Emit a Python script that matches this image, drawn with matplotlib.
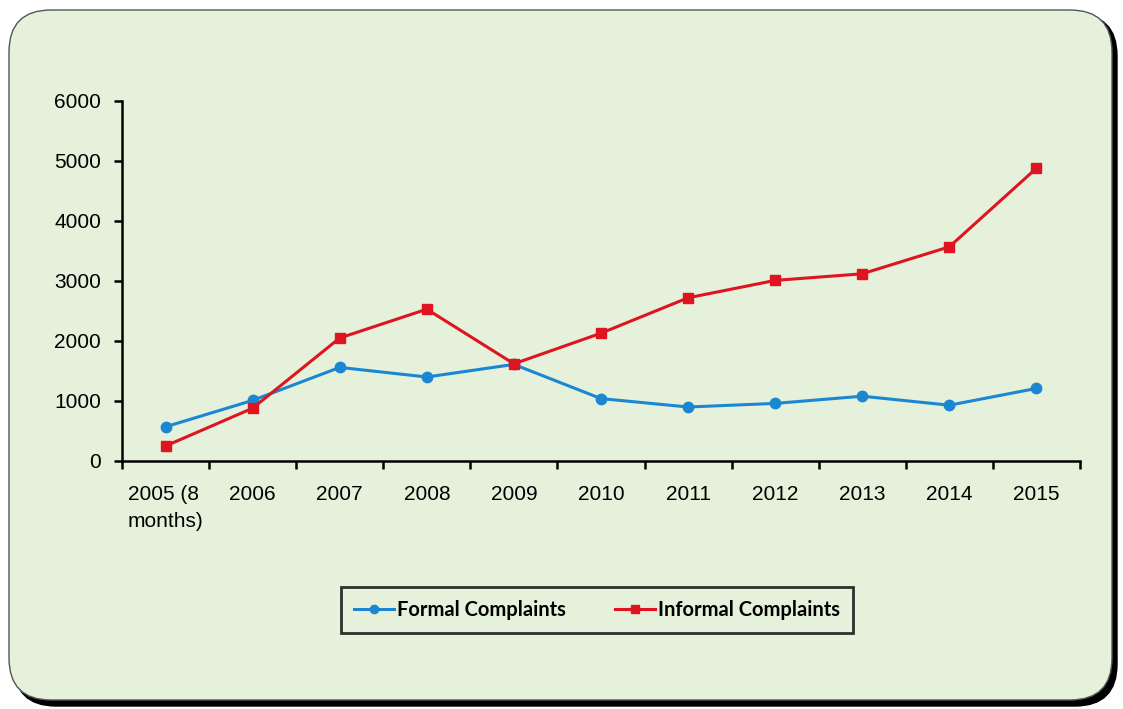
#!/usr/bin/env python3
"""Formal vs. informal complaints, 2005-2015, line chart on a rounded green card."""

import matplotlib.pyplot as plt
from matplotlib.patches import FancyBboxPatch

YEARS = ["2005 (8\nmonths)", "2006", "2007", "2008", "2009", "2010",
         "2011", "2012", "2013", "2014", "2015"]
FORMAL = [570, 1010, 1560, 1400, 1610, 1040, 900, 960, 1080, 930, 1210]
INFORMAL = [250, 880, 2050, 2530, 1620, 2130, 2720, 3010, 3120, 3570, 4880]
Y_TICKS = [0, 1000, 2000, 3000, 4000, 5000, 6000]

W, H = 1123, 709
CARD = "#E6F1DB"
BLUE = "#1B87D3"
RED = "#DE1421"

fig = plt.figure(figsize=(W / 100, H / 100), dpi=100)
fig.patch.set_facecolor("white")

# background card in pixel coordinates
bg = fig.add_axes([0, 0, 1, 1], zorder=0)
bg.set_xlim(0, W)
bg.set_ylim(H, 0)
bg.axis("off")
shadow = FancyBboxPatch((14, 14), 1103, 692,
                        boxstyle="round,pad=0,rounding_size=42",
                        facecolor="black", edgecolor="black")
card = FancyBboxPatch((9, 10), 1103, 690,
                      boxstyle="round,pad=0,rounding_size=42",
                      facecolor=CARD, edgecolor="#555555", linewidth=1.0)
bg.add_patch(shadow)
bg.add_patch(card)

ax = fig.add_axes([122 / W, 1 - 461 / H, (1080 - 122) / W, (461 - 101) / H], zorder=1)
ax.patch.set_alpha(0)
x = list(range(len(YEARS)))

ax.plot(x, FORMAL, color=BLUE, linewidth=2.2, marker="o", markersize=7.5,
        label="Formal Complaints", zorder=3)
ax.plot(x, INFORMAL, color=RED, linewidth=2.2, marker="s", markersize=7.5,
        label="Informal Complaints", zorder=4)

ax.set_xlim(-0.5, len(YEARS) - 0.5)
ax.set_ylim(0, 6000)
ax.set_yticks(Y_TICKS)
ax.set_yticklabels([str(v) for v in Y_TICKS], family="Liberation Sans", fontsize=15)

ax.set_xticks(x)
ax.set_xticklabels(YEARS, family="Liberation Sans", fontsize=15,
                   multialignment="left", va="top")
for lbl in ax.get_xticklabels():
    lbl.set_linespacing(1.55)
ax.set_xticks([i + 0.5 for i in range(-1, len(YEARS))], minor=True)
ax.tick_params(axis="x", which="major", length=0, pad=17)
ax.tick_params(axis="x", which="minor", length=6, width=1.8, direction="out")
ax.tick_params(axis="y", length=6, width=1.8, direction="out", pad=9)

for side in ("top", "right"):
    ax.spines[side].set_visible(False)
for side in ("left", "bottom"):
    ax.spines[side].set_linewidth(1.8)

leg = ax.legend(loc="center", bbox_to_anchor=(597 / W, 1 - 610 / H),
                bbox_transform=fig.transFigure, ncol=2, frameon=True,
                fancybox=False, edgecolor="black", facecolor=CARD,
                prop={"family": "Lato", "weight": "bold", "size": 14.5},
                handlelength=2.0, handletextpad=0.15, columnspacing=2.4,
                borderpad=0.65, borderaxespad=0, markerscale=0.8)
leg.get_frame().set_linewidth(2)

fig.savefig("out.png", dpi=100)
